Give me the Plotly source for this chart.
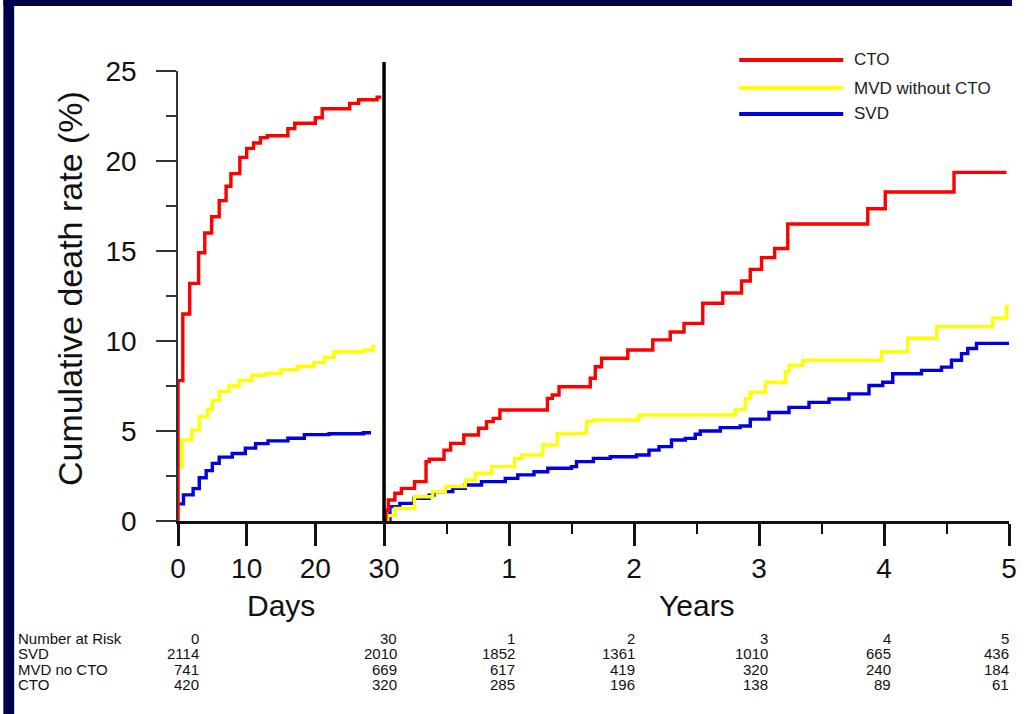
import plotly.graph_objects as go

# ---------------- data ----------------
series_names = ["CTO", "MVD without CTO", "SVD"]
series_colors = ["#FF0000", "#FFFF00", "#0000E0"]

# first 30 days (x in days, y in %)
cto_days = [0, 0, 0.7, 1.7, 3.0, 3.9, 4.9, 6.0, 7.0, 7.7, 9.0, 10.0, 11.0, 12.0, 13.0, 16.0, 17.0, 20.0, 21.0, 25.0, 26.3, 29.0, 29.6]
cto_day_vals = [0, 7.8, 11.5, 13.2, 14.9, 16.0, 16.9, 17.8, 18.6, 19.3, 20.2, 20.7, 21.0, 21.3, 21.4, 21.8, 22.1, 22.4, 22.9, 23.2, 23.4, 23.55, 23.55]

mvd_days = [0.4, 0.6, 2.0, 3.1, 4.3, 5.0, 6.0, 7.4, 8.9, 10.7, 12.7, 15.0, 17.4, 19.8, 21.3, 22.7, 27.0, 28.4, 28.7]
mvd_day_vals = [3.0, 4.5, 5.05, 5.8, 6.2, 6.7, 7.2, 7.5, 7.8, 8.1, 8.2, 8.4, 8.6, 8.8, 9.1, 9.4, 9.5, 9.7, 9.7]

svd_days = [0.2, 0.8, 2.2, 3.1, 4.1, 5.0, 6.0, 7.9, 9.8, 11.3, 13.1, 16.0, 18.4, 22.0, 27.0, 28.1]
svd_day_vals = [0.95, 1.45, 1.8, 2.4, 2.8, 3.2, 3.55, 3.75, 4.05, 4.3, 4.45, 4.6, 4.8, 4.85, 4.9, 4.9]

# after 30 days (x in years, y in %)
cto_years = [0, 0.015, 0.034, 0.087, 0.139, 0.244, 0.336, 0.362, 0.48, 0.533, 0.638, 0.756, 0.82, 0.874, 0.927,
             1.307, 1.346, 1.40, 1.65, 1.69, 1.74, 1.95, 2.15, 2.29, 2.40, 2.55, 2.71, 2.86, 2.93, 3.02, 3.125,
             3.23, 3.87, 4.01, 4.56, 4.98]
cto_year_vals = [0.0, 0.6, 1.17, 1.54, 1.81, 2.19, 3.30, 3.43, 3.94, 4.31, 4.78, 5.15, 5.52, 5.70, 6.17,
                 6.81, 7.0, 7.46, 7.93, 8.57, 9.04, 9.5, 10.06, 10.5, 10.98, 12.1, 12.67, 13.33, 13.98, 14.63, 15.14,
                 16.5, 17.35, 18.28, 19.37, 19.37]

mvd_years = [0, 0.03, 0.087, 0.244, 0.39, 0.49, 0.65, 0.73, 0.86, 1.045, 1.10, 1.27, 1.386, 1.62, 1.675, 2.04,
             2.81, 2.89, 2.93, 3.05, 3.21, 3.24, 3.35, 3.98, 4.19, 4.42, 4.87, 4.98, 5.0]
mvd_year_vals = [0.0, 0.3, 0.70, 1.35, 1.63, 1.91, 2.28, 2.65, 3.02, 3.48, 3.67, 4.22, 4.87, 5.52, 5.61, 5.89,
                 6.2, 6.8, 7.15, 7.71, 8.3, 8.65, 8.93, 9.4, 10.15, 10.8, 11.27, 11.92, 11.92]

svd_years = [0, 0.047, 0.126, 0.24, 0.36, 0.40, 0.55, 0.65, 0.78, 0.97, 1.07, 1.20, 1.31, 1.50, 1.54, 1.675, 1.81,
             2.02, 2.12, 2.2, 2.30, 2.41, 2.49, 2.53, 2.69, 2.85, 2.93, 3.08, 3.24, 3.40, 3.56, 3.72, 3.88, 3.99,
             4.07, 4.30, 4.46, 4.54, 4.62, 4.67, 4.74, 5.0]
svd_year_vals = [0.1, 0.8, 0.98, 1.26, 1.44, 1.63, 1.81, 2.0, 2.19, 2.37, 2.56, 2.74, 2.93, 3.02, 3.30, 3.48, 3.57,
                 3.67, 3.94, 4.13, 4.5, 4.59, 4.82, 5.0, 5.19, 5.28, 5.66, 6.03, 6.31, 6.59, 6.78, 7.06, 7.53, 7.71,
                 8.18, 8.37, 8.55, 8.93, 9.3, 9.58, 9.87, 9.87]

# axes ticks
day_ticks = [0, 10, 20, 30]
year_ticks = [0, 1, 2, 3, 4, 5]
year_ticktext = ["", "1", "2", "3", "4", "5"]
year_minor = [0.5, 1.5, 2.5, 3.5, 4.5]
y_ticks = [0, 5, 10, 15, 20, 25]
y_minor = [2.5, 7.5, 12.5, 17.5, 22.5]

# number at risk table
risk_header = ["0", "30", "1", "2", "3", "4", "5"]
risk_axis = ["x", "x", "x2", "x2", "x2", "x2", "x2"]
risk_pos = [0, 30, 1, 2, 3, 4, 5]
risk_rows = ["SVD", "MVD no CTO", "CTO"]
svd_risk = [2114, 2010, 1852, 1361, 1010, 665, 436]
mvd_risk = [741, 669, 617, 419, 320, 240, 184]
cto_risk = [420, 320, 285, 196, 138, 89, 61]

# ---------------- layout geometry (pixels) ----------------
W, H = 1028, 714
PL, PR, PT, PB = 178, 1025, 71, 521
NAVY = "#00004A"
FONT = "Liberation Sans, Arial, Helvetica, sans-serif"


def fx(px):
    return (px - PL) / (PR - PL)


def fy(py):
    return (PB - py) / (PB - PT)


split = fx(388)

fig = go.Figure()

day_sets = [(cto_days, cto_day_vals), (mvd_days, mvd_day_vals), (svd_days, svd_day_vals)]
year_sets = [(cto_years, cto_year_vals), (mvd_years, mvd_year_vals), (svd_years, svd_year_vals)]
# draw blue first, then yellow, then red on top
for i in [2, 1, 0]:
    fig.add_trace(go.Scatter(x=day_sets[i][0], y=day_sets[i][1], mode="lines", line_shape="hv",
                             line=dict(color=series_colors[i], width=3.4), name=series_names[i],
                             showlegend=False, xaxis="x", yaxis="y", hoverinfo="skip"))
    fig.add_trace(go.Scatter(x=year_sets[i][0], y=year_sets[i][1], mode="lines", line_shape="hv",
                             line=dict(color=series_colors[i], width=3.4), name=series_names[i],
                             showlegend=False, xaxis="x2", yaxis="y", hoverinfo="skip"))

tickfont = dict(family=FONT, size=28, color="#111")

fig.update_layout(
    width=W, height=H, autosize=False,
    margin=dict(l=PL, r=W - PR, t=PT, b=H - PB, pad=0),
    paper_bgcolor="white", plot_bgcolor="white",
    showlegend=False,
    xaxis=dict(domain=[0, split], range=[0, 30], tickmode="array", tickvals=day_ticks,
               ticks="outside", ticklen=22, tickwidth=2.5, tickcolor="#111",
               showline=True, linecolor="#111", linewidth=2.5, showgrid=False, zeroline=False,
               tickfont=tickfont, ticklabelstandoff=-1, anchor="y"),
    xaxis2=dict(domain=[split, 1], range=[0, 5], tickmode="array", tickvals=year_ticks,
                ticktext=year_ticktext,
                ticks="outside", ticklen=22, tickwidth=2.5, tickcolor="#111",
                minor=dict(tickmode="array", tickvals=year_minor, ticks="outside", ticklen=10,
                           tickwidth=2, tickcolor="#111", showgrid=False),
                showline=True, linecolor="#111", linewidth=2.5, showgrid=False, zeroline=False,
                tickfont=tickfont, ticklabelstandoff=-1, anchor="y"),
    yaxis=dict(range=[0, 25], tickmode="array", tickvals=y_ticks,
               ticks="outside", ticklen=20, tickwidth=2, tickcolor="#333",
               minor=dict(tickmode="array", tickvals=y_minor, ticks="outside", ticklen=10,
                          tickwidth=1.5, tickcolor="#333", showgrid=False),
               showline=True, linecolor="#333", linewidth=1.5, showgrid=False, zeroline=False,
               tickfont=tickfont, ticklabelstandoff=14, anchor="x"),
)

shapes = []
# navy frame (left and top bands)
shapes.append(dict(type="rect", xref="paper", yref="paper", x0=fx(0), x1=fx(11), y0=fy(H), y1=fy(0),
                   fillcolor=NAVY, line=dict(width=0), layer="above"))
shapes.append(dict(type="rect", xref="paper", yref="paper", x0=fx(0), x1=fx(W), y0=fy(6), y1=fy(0),
                   fillcolor=NAVY, line=dict(width=0), layer="above"))
# divider between the day and year panels
shapes.append(dict(type="line", xref="paper", yref="paper", x0=split, x1=split, y0=0, y1=fy(62),
                   line=dict(color="#000", width=3.5), layer="above"))
# legend lines
legend_y = [60, 88, 114]
for i in range(3):
    shapes.append(dict(type="line", xref="paper", yref="paper", x0=fx(750), x1=fx(856),
                       y0=fy(legend_y[i]), y1=fy(legend_y[i]),
                       line=dict(color=series_colors[i], width=4)))
fig.update_layout(shapes=shapes)

ann = []
for i in range(3):
    ann.append(dict(text=series_names[i], xref="paper", yref="paper", x=fx(865), y=fy(legend_y[i]),
                    xanchor="left", yanchor="middle", showarrow=False,
                    font=dict(family=FONT, size=17, color="#222")))
# axis titles
ann.append(dict(text="Cumulative death rate (%)", xref="paper", yref="paper", x=fx(68), y=fy(289),
                textangle=-90, xanchor="center", yanchor="middle", showarrow=False,
                font=dict(family=FONT, size=34, color="#111")))
ann.append(dict(text="Days", xref="x", yref="paper", x=15, y=fy(605), xanchor="center", yanchor="middle",
                showarrow=False, font=dict(family=FONT, size=30, color="#111")))
ann.append(dict(text="Years", xref="x2", yref="paper", x=2.5, y=fy(605), xanchor="center", yanchor="middle",
                showarrow=False, font=dict(family=FONT, size=30, color="#111")))

# number at risk table
row_y = [638, 653.5, 669, 684.5]
col_shift = [23, 15, 8, 3, 11, 9, 2]
tfont = dict(family=FONT, size=15, color="#111")
labels = ["Number at Risk"] + risk_rows
for r, lab in enumerate(labels):
    ann.append(dict(text=lab, xref="paper", yref="paper", x=fx(13), y=fy(row_y[r]), xanchor="left",
                    yanchor="middle", showarrow=False, font=tfont))
table = [risk_header, svd_risk, mvd_risk, cto_risk]
for r, row in enumerate(table):
    for c, val in enumerate(row):
        ann.append(dict(text=str(val), xref=risk_axis[c], yref="paper", x=risk_pos[c], y=fy(row_y[r]),
                        xanchor="right", yanchor="middle", xshift=col_shift[c], showarrow=False,
                        font=tfont))
fig.update_layout(annotations=ann)

page_js = ("document.documentElement.style.overflow='hidden';"
           "document.body.style.margin='0px';"
           "document.body.style.background='white';"
           "document.body.style.overflow='hidden';")
fig.write_html("out.html", post_script=page_js,
               config={"displayModeBar": False, "responsive": False})
